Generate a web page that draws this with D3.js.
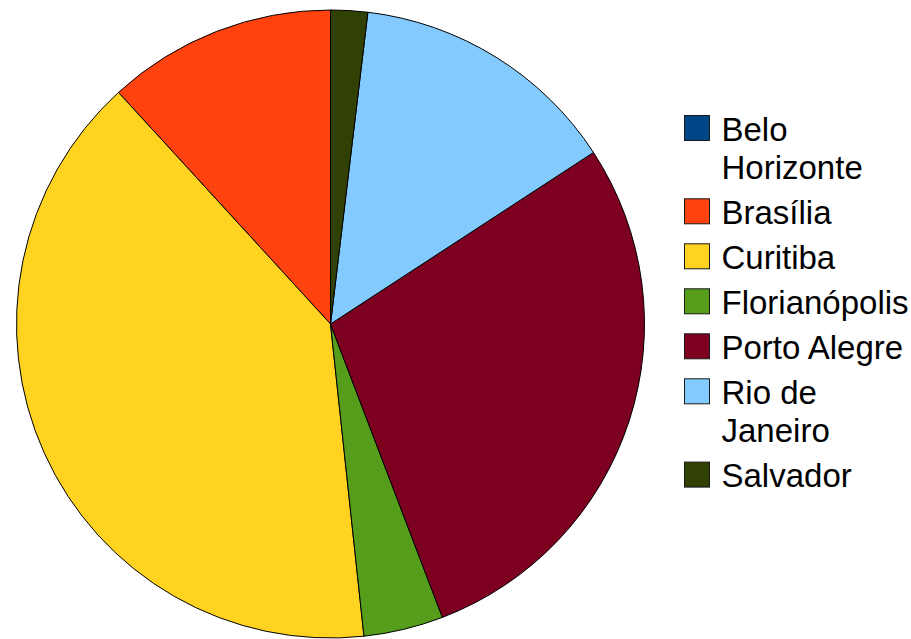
<!DOCTYPE html>
<html>
<head>
<meta charset="utf-8">
<script src="https://cdn.jsdelivr.net/npm/d3@7"></script>
<style>
  html, body { margin: 0; padding: 0; background: #fff; }
  svg { display: block; }
</style>
</head>
<body>
<svg id="chart" width="911" height="639"></svg>
<script>
// City shares (percent of total)
const cities = ["Belo Horizonte", "Brasília", "Curitiba", "Florianópolis", "Porto Alegre", "Rio de Janeiro", "Salvador"];
const shares = [0, 11.8, 39.9, 4.1, 28.4, 13.9, 1.9];
const colors = ["#004586", "#ff420e", "#ffd320", "#579d1c", "#7e0021", "#83caff", "#314004"];
// Legend text, wrapped the way it is shown
const legendLines = [["Belo", "Horizonte"], ["Brasília"], ["Curitiba"], ["Florianópolis"], ["Porto Alegre"], ["Rio de", "Janeiro"], ["Salvador"]];

const svg = d3.select("#chart");
const cx = 330.5, cy = 324, radius = 314;

const color = d3.scaleOrdinal().domain(cities).range(colors);

// Slices run counter-clockwise from twelve o'clock
const pie = d3.pie()
  .sort(null)
  .value(d => d.value)
  .startAngle(0)
  .endAngle(-2 * Math.PI);

const data = cities.map((c, i) => ({ city: c, value: shares[i] }));
const arc = d3.arc().innerRadius(0).outerRadius(radius);

const g = svg.append("g").attr("transform", `translate(${cx},${cy})`);
g.selectAll("path")
  .data(pie(data))
  .join("path")
  .attr("d", arc)
  .attr("fill", d => color(d.data.city))
  .attr("stroke", "#000")
  .attr("stroke-width", 1)
  .attr("stroke-linejoin", "round");

// Legend
const legend = svg.append("g").attr("font-family", "'Liberation Sans', Arial, sans-serif")
  .attr("font-size", 33);
const sq = 25, lineStep = 38.3, entryGap = 45;
let y = 115.5;
cities.forEach((c, i) => {
  const item = legend.append("g");
  item.append("rect")
    .attr("x", 684.5).attr("y", y)
    .attr("width", sq).attr("height", sq)
    .attr("fill", color(c))
    .attr("stroke", "#1a1a1a")
    .attr("stroke-width", 1);
  legendLines[i].forEach((t, j) => {
    item.append("text")
      .attr("x", 721.5)
      .attr("y", y + sq + j * lineStep)
      .attr("fill", "#000")
      .text(t);
  });
  y += entryGap + (legendLines[i].length - 1) * lineStep;
});
</script>
</body>
</html>
